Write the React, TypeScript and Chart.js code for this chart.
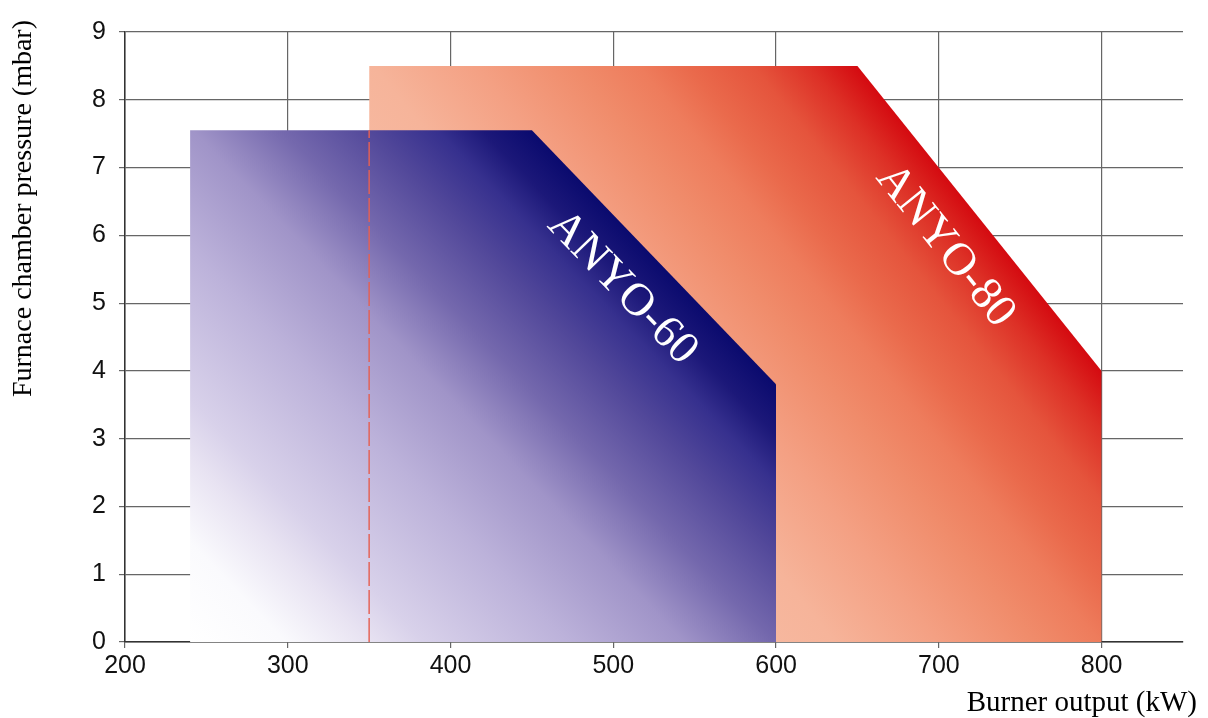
import React, { useEffect, useRef } from 'react';
import { Chart, registerables } from 'chart.js';

Chart.register(...registerables);

// ---- data ----
const xTickValues = [200, 300, 400, 500, 600, 700, 800];
const xMin = 200;
const xMax = 850;
const yMin = 0;
const yMax = 9;
const anyo80X = [350, 350, 650, 800, 800];
const anyo80Y = [0, 8.5, 8.5, 4, 0];
const anyo60X = [240, 240, 450, 600, 600];
const anyo60Y = [0, 7.55, 7.55, 3.8, 0];
const dividerX = [350, 350];
const dividerY = [0, 7.55];
const seriesNames = ['ANYO-80', 'ANYO-60'];
const xTitle = 'Burner output (kW)';
const yTitle = 'Furnace chamber pressure (mbar)';

const pts = (xs: number[], ys: number[]) => xs.map((x, i) => ({ x, y: ys[i] }));

const stops80: [number, string][] = [
  [0, '#fad0bc'],
  [0.49, '#f6b49a'],
  [0.6, '#f4a083'],
  [0.7, '#f08c6b'],
  [0.77, '#ee7c5c'],
  [0.82, '#ea6a4c'],
  [0.89, '#e5543c'],
  [0.95, '#dd3026'],
  [1, '#d40a10'],
];
const stops60: [number, string][] = [
  [0, '#ffffff'],
  [0.115, '#fafafd'],
  [0.213, '#e8e3f2'],
  [0.28, '#d8d1ea'],
  [0.454, '#bcb2da'],
  [0.593, '#a094c8'],
  [0.7, '#7468ad'],
  [0.805, '#52489a'],
  [0.886, '#36308e'],
  [0.94, '#1c1879'],
  [1, '#0a0a6e'],
];

// gradient running from the bottom-left corner perpendicular to the slanted edge
function makeGradient(chart: any, xs: number[], ys: number[], stops: [number, string][]) {
  const { ctx, chartArea, scales } = chart;
  if (!chartArea || !scales.x || !scales.y) return stops[0][1];
  const px = (v: number) => scales.x.getPixelForValue(v);
  const py = (v: number) => scales.y.getPixelForValue(v);
  const p0x = px(xs[0]);
  const p0y = py(ys[0]);
  const ax = px(xs[2]);
  const ay = py(ys[2]);
  const bx = px(xs[3]);
  const by = py(ys[3]);
  const len = Math.hypot(bx - ax, by - ay) || 1;
  const ex = (bx - ax) / len;
  const ey = (by - ay) / len;
  const nx = ey;
  const ny = -ex;
  const sMax = (ax - p0x) * nx + (ay - p0y) * ny;
  const g = ctx.createLinearGradient(p0x, p0y, p0x + nx * sMax, p0y + ny * sMax);
  stops.forEach(([o, c]) => g.addColorStop(o, c));
  return g;
}

const serif = '"Liberation Serif", "Times New Roman", Times, serif';
const sans = '"Liberation Sans", Arial, Helvetica, sans-serif';

const labelPlugin = {
  id: 'edgeLabels',
  afterDatasetsDraw(chart: any) {
    const { ctx, scales } = chart;
    const drawEdgeLabel = (xs: number[], ys: number[], text: string) => {
      const ax = scales.x.getPixelForValue(xs[2]);
      const ay = scales.y.getPixelForValue(ys[2]);
      const bx = scales.x.getPixelForValue(xs[3]);
      const by = scales.y.getPixelForValue(ys[3]);
      const ang = Math.atan2(by - ay, bx - ax);
      const mx = (ax + bx) / 2;
      const my = (ay + by) / 2;
      const off = 44;
      ctx.save();
      ctx.translate(mx - Math.sin(ang) * off, my + Math.cos(ang) * off);
      ctx.rotate(ang);
      ctx.font = `46px ${serif}`;
      ctx.fillStyle = '#ffffff';
      ctx.textAlign = 'center';
      ctx.textBaseline = 'middle';
      ctx.fillText(text, 0, 0);
      ctx.restore();
    };
    drawEdgeLabel(anyo80X, anyo80Y, seriesNames[0]);
    drawEdgeLabel(anyo60X, anyo60Y, seriesNames[1]);
  },
  afterDraw(chart: any) {
    const { ctx, chartArea } = chart;
    ctx.save();
    ctx.fillStyle = '#000';
    ctx.font = `29px ${serif}`;
    ctx.textAlign = 'right';
    ctx.textBaseline = 'middle';
    ctx.fillText(xTitle, chartArea.right + 14, chartArea.bottom + 61);
    ctx.translate(24, chartArea.top - 12);
    ctx.rotate(-Math.PI / 2);
    ctx.font = `28px ${serif}`;
    ctx.textAlign = 'right';
    ctx.textBaseline = 'middle';
    ctx.fillText(yTitle, 0, 0);
    ctx.restore();
  },
};

export default function App() {
  const ref = useRef<HTMLCanvasElement | null>(null);

  useEffect(() => {
    if (!ref.current) return;
    const chart = new Chart(ref.current, {
      type: 'line',
      data: {
        datasets: [
          {
            label: seriesNames[0],
            data: pts(anyo80X, anyo80Y),
            order: 3,
            fill: 'origin',
            borderWidth: 0,
            pointRadius: 0,
            tension: 0,
            backgroundColor: (c: any) => makeGradient(c.chart, anyo80X, anyo80Y, stops80),
            borderColor: 'rgba(0,0,0,0)',
          },
          {
            label: seriesNames[1],
            data: pts(anyo60X, anyo60Y),
            order: 2,
            fill: 'origin',
            borderWidth: 0,
            pointRadius: 0,
            tension: 0,
            backgroundColor: (c: any) => makeGradient(c.chart, anyo60X, anyo60Y, stops60),
            borderColor: 'rgba(0,0,0,0)',
          },
          {
            label: 'divider',
            data: pts(dividerX, dividerY),
            order: 1,
            fill: false,
            borderWidth: 1.6,
            borderDash: [24, 4],
            pointRadius: 0,
            borderColor: 'rgba(228,96,84,0.9)',
          },
        ],
      },
      options: {
        animation: false,
        responsive: true,
        maintainAspectRatio: false,
        layout: { padding: { left: 0, top: 32, right: 25, bottom: 0 } },
        plugins: {
          legend: { display: false },
          tooltip: { enabled: false },
          title: { display: false },
        },
        scales: {
          x: {
            type: 'linear',
            min: xMin,
            max: xMax,
            afterBuildTicks: (s: any) => {
              s.ticks = xTickValues.map((v) => ({ value: v }));
            },
            afterFit: (s: any) => {
              s.height = 76;
            },
            grid: { color: '#666', lineWidth: 1.2, tickLength: 6, drawTicks: true },
            border: { display: true, color: '#333', width: 1.5 },
            ticks: {
              padding: 3,
              color: '#111',
              font: { family: sans, size: 25 },
              maxRotation: 0,
              callback: (v: any) => String(v),
            },
          },
          y: {
            type: 'linear',
            min: yMin,
            max: yMax,
            afterFit: (s: any) => {
              s.width = 125;
            },
            grid: { color: '#666', lineWidth: 1.2, tickLength: 6, drawTicks: true },
            border: { display: true, color: '#333', width: 1.5 },
            ticks: {
              stepSize: 1,
              padding: 13,
              color: '#111',
              font: { family: sans, size: 25 },
            },
          },
        },
      },
      plugins: [labelPlugin],
    });
    return () => chart.destroy();
  }, []);

  return (
    <div style={{ position: 'absolute', left: 0, top: 0, width: 1208, height: 718 }}>
      <canvas ref={ref} />
    </div>
  );
}
